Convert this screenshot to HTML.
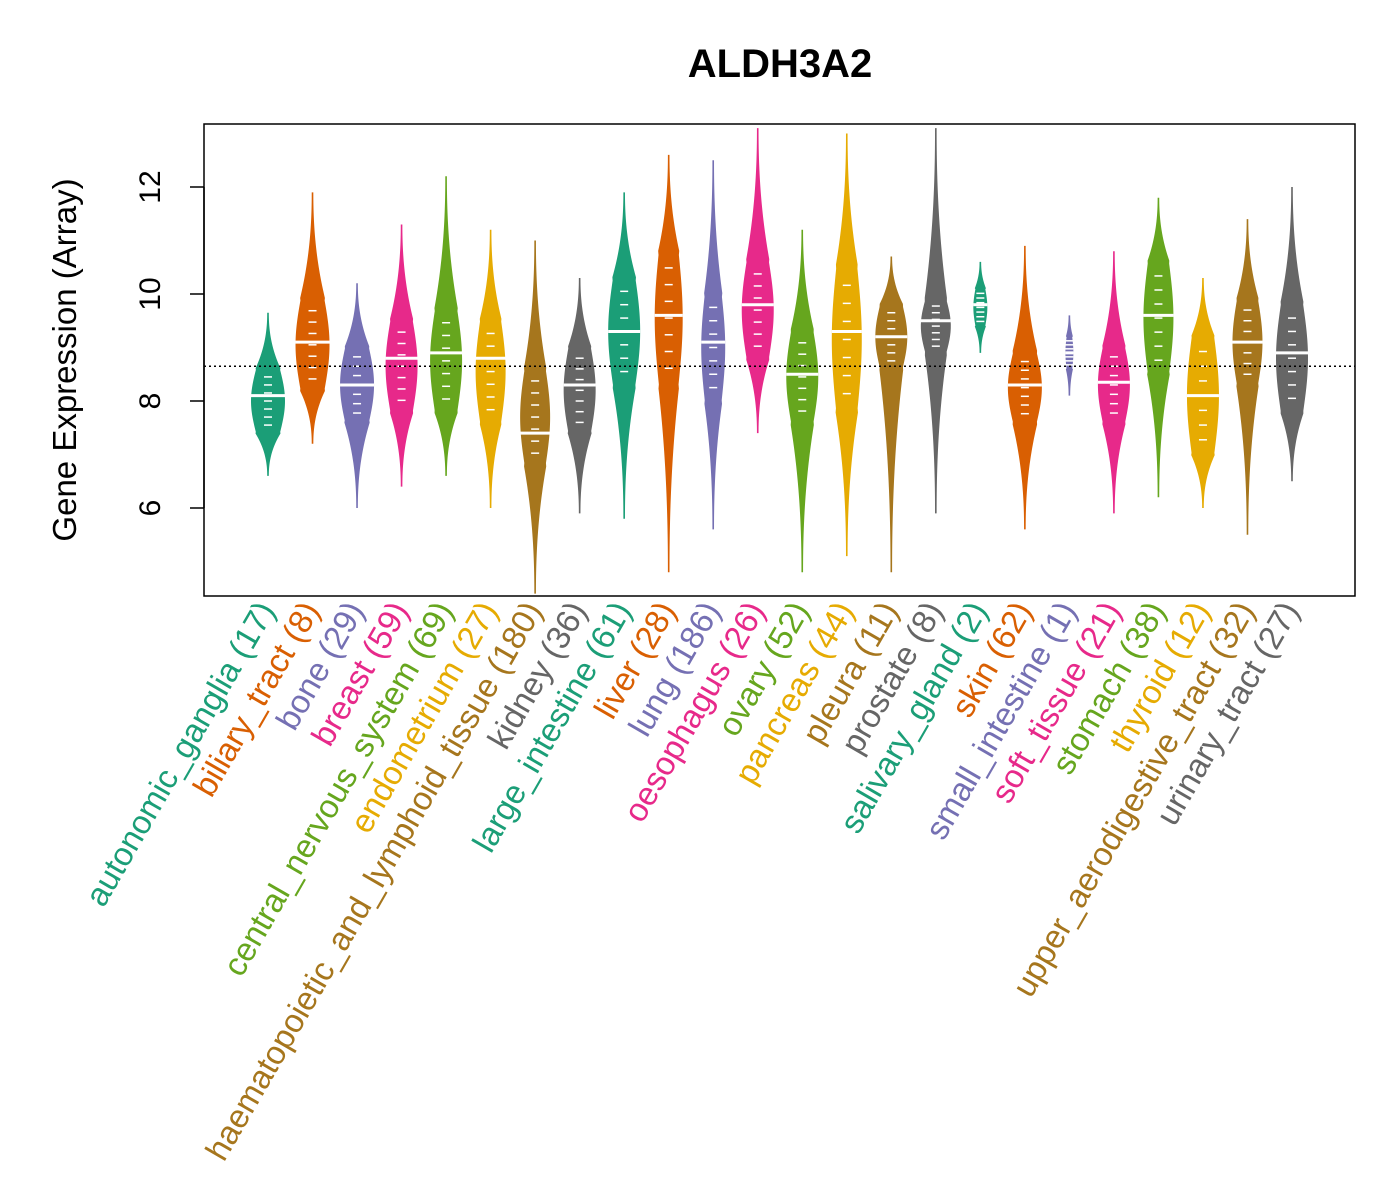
<!DOCTYPE html>
<html><head><meta charset="utf-8"><style>
body{margin:0;background:#fff}
svg{display:block;font-family:"Liberation Sans",Arial,sans-serif}
</style></head><body>
<svg id="chart" width="1400" height="1200" viewBox="0 0 1400 1200" xmlns="http://www.w3.org/2000/svg">
<text x="780" y="77" text-anchor="middle" font-size="40" font-weight="bold">ALDH3A2</text>
<rect x="204" y="124" width="1151" height="472" fill="none" stroke="#000" stroke-width="1.5"/>
<text transform="translate(76,360) rotate(-90)" text-anchor="middle" font-size="33">Gene Expression (Array)</text>
<g id="yaxis"></g>
<g id="violins"></g>
<g id="labels"></g>
</svg>
<script>
const categories=["autonomic_ganglia","biliary_tract","bone","breast","central_nervous_system","endometrium","haematopoietic_and_lymphoid_tissue","kidney","large_intestine","liver","lung","oesophagus","ovary","pancreas","pleura","prostate","salivary_gland","skin","small_intestine","soft_tissue","stomach","thyroid","upper_aerodigestive_tract","urinary_tract"];
const counts=[17,8,29,59,69,27,180,36,61,28,186,26,52,44,11,8,2,62,1,21,38,12,32,27];
const lows=[6.6,7.2,6.0,6.4,6.6,6.0,4.4,5.9,5.8,4.8,5.6,7.4,4.8,5.1,4.8,5.9,8.9,5.6,8.1,5.9,6.2,6.0,5.5,6.5];
const q1s=[7.4,8.2,7.6,7.8,7.8,7.6,6.8,7.4,8.3,8.3,8.0,8.8,7.6,7.8,8.6,8.9,9.4,7.6,8.6,7.6,8.5,7.0,8.3,7.8];
const medians=[8.1,9.1,8.3,8.8,8.9,8.8,7.4,8.3,9.3,9.6,9.1,9.8,8.5,9.3,9.2,9.5,9.8,8.3,8.9,8.35,9.6,8.1,9.1,8.9];
const q3s=[8.6,9.9,9.0,9.5,9.7,9.5,8.6,9.0,10.3,10.8,10.0,10.6,9.3,10.5,9.8,9.9,10.1,8.9,9.2,9.0,10.6,9.2,9.9,9.8];
const highs=[9.65,11.9,10.2,11.3,12.2,11.2,11.0,10.3,11.9,12.6,12.5,13.1,11.2,13.0,10.7,13.1,10.6,10.9,9.6,10.8,11.8,10.3,11.4,12.0];
const widths=[17,17,17,16,16,15,15,16,16,14,12,16,16,15,16,15,7,17,4,16,15,16,15,16];
const yTicks=[6,8,10,12];
const refLine=8.65;
const colors=["#1B9E77","#D95F02","#7570B3","#E7298A","#66A61E","#E6AB02","#A6761D","#666666"];
const NS="http://www.w3.org/2000/svg";
const yScale=v=>401-(v-8)*53.5;
const xScale=i=>268+i*(1292-268)/23;
function mk(t,a,p){const e=document.createElementNS(NS,t);for(const k in a)e.setAttribute(k,a[k]);p.appendChild(e);return e;}
const ya=document.getElementById('yaxis');
mk('line',{x1:204,x2:204,y1:yScale(6),y2:yScale(12),stroke:'#000','stroke-width':1.5},ya);
yTicks.forEach(t=>{
 const l=mk('line',{x1:190,x2:204,y1:yScale(t),y2:yScale(t),stroke:'#000','stroke-width':1.5},ya);
 
 
 const tx=mk('text',{transform:`translate(160,${yScale(t)}) rotate(-90)`,'text-anchor':'middle','font-size':30},ya);
 tx.textContent=t;
 
 
});
const vg=document.getElementById('violins');
const lg=document.getElementById('labels');
categories.forEach((c,i)=>{
 const x=xScale(i),col=colors[i%8];
 const lo=lows[i],hi=highs[i],a=q1s[i],b=q3s[i],w=widths[i];
 const pts=[],n=100;
 for(let k=0;k<=n;k++){
  const v=lo+(hi-lo)*k/n;let hw;
  if(v<a){const d=(a-v)/(a-lo);hw=w*0.7*Math.pow(1-d,2.2)+0.8;}
  else if(v>b){const d=(v-b)/(hi-b);hw=w*0.7*Math.pow(1-d,2.2)+0.8;}
  else{const u=(v-a)/Math.max(b-a,0.01);hw=w*(0.7+0.3*Math.sin(Math.PI*u));}
  pts.push([v,hw]);
 }
 let path='M'+pts.map(p=>`${x-p[1]},${yScale(p[0])}`).join(' L')+' L'+pts.slice().reverse().map(p=>`${x+p[1]},${yScale(p[0])}`).join(' L')+'Z';
 const v=mk('path',{d:path,fill:col},vg);
 
 
 for(let k=1;k<8;k++){
  const val=a+(b-a)*k/8;
  mk('line',{x1:x-4,x2:x+4,y1:yScale(val),y2:yScale(val),stroke:'#fff','stroke-width':1.5},vg);
 }
 const m=mk('line',{x1:x-w,x2:x+w,y1:yScale(medians[i]),y2:yScale(medians[i]),stroke:'#fff','stroke-width':3},vg);
 
 
 const t=mk('text',{transform:`translate(${x+8},${610}) rotate(-60)`,'text-anchor':'end','font-size':33,fill:col},lg);
 t.textContent=c+' ('+counts[i]+')';
 
 
});
const rl=mk('line',{x1:204,x2:1355,y1:yScale(refLine),y2:yScale(refLine),stroke:'#000','stroke-width':1.5,'stroke-dasharray':'2,3'},vg);


</script>
</body></html>
